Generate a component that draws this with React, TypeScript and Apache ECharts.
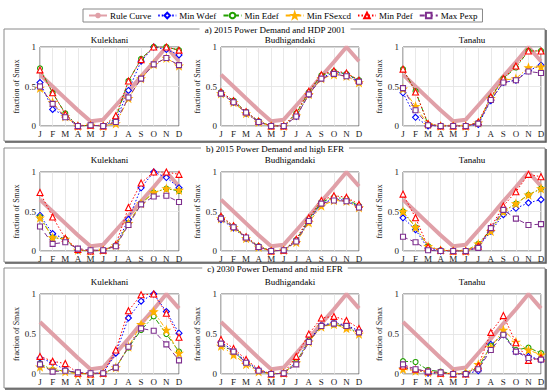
import React, { useEffect, useRef } from "react";
import * as echarts from "echarts";

const months = ["J", "F", "M", "A", "M", "J", "J", "A", "S", "O", "N", "D"];
const seriesNames = ["Min Wdef", "Min Edef", "Min FSexcd", "Min Pdef", "Max Pexp"];
const reservoirs = ["Kulekhani", "Budhigandaki", "Tanahu"];
const scenarioTitles = [
  "a) 2015 Power Demand and HDP 2001",
  "b) 2015 Power Demand and high EFR",
  "c) 2030 Power Demand and mid EFR",
];

const ruleCurve = [0.65, 0.5, 0.35, 0.2, 0.06, 0.08, 0.26, 0.44, 0.63, 0.81, 1.0, 0.82];

// order: Wdef, Edef, FSexcd, Pdef, Pexp
const aKulekhani = [
  [0.55, 0.21, 0.13, 0, 0.01, 0, 0.07, 0.45, 0.82, 1.0, 0.97, 0.9],
  [0.73, 0.42, 0.16, 0, 0.01, 0, 0.1, 0.57, 0.85, 1.0, 1.0, 0.96],
  [0.48, 0.3, 0.12, 0, 0.01, 0, 0.03, 0.35, 0.6, 0.78, 0.86, 0.76],
  [0.71, 0.42, 0.15, 0, 0.01, 0, 0.13, 0.57, 0.84, 1.0, 1.0, 0.96],
  [0.5, 0.28, 0.11, 0, 0.01, 0, 0.05, 0.36, 0.6, 0.78, 0.86, 0.77],
];
const aBudhigandaki = [
  [0.42, 0.3, 0.16, 0.05, 0, 0, 0.12, 0.4, 0.61, 0.68, 0.66, 0.56],
  [0.43, 0.32, 0.18, 0.06, 0, 0, 0.16, 0.43, 0.64, 0.69, 0.66, 0.58],
  [0.41, 0.3, 0.16, 0.05, 0, 0, 0.13, 0.4, 0.6, 0.65, 0.63, 0.55],
  [0.43, 0.32, 0.18, 0.06, 0, 0, 0.17, 0.44, 0.65, 0.7, 0.67, 0.58],
  [0.41, 0.3, 0.17, 0.05, 0, 0, 0.12, 0.4, 0.6, 0.66, 0.63, 0.56],
];
const aTanahu = [
  [0.42, 0.11, 0.0, 0, 0, 0, 0.02, 0.32, 0.55, 0.58, 0.7, 0.77],
  [0.72, 0.44, 0.02, 0, 0, 0, 0.04, 0.36, 0.6, 0.74, 0.95, 0.95],
  [0.47, 0.25, 0.02, 0, 0, 0, 0.04, 0.35, 0.58, 0.6, 0.74, 0.75],
  [0.72, 0.43, 0.03, 0, 0, 0, 0.05, 0.37, 0.6, 0.76, 0.95, 0.95],
  [0.48, 0.2, 0.01, 0, 0, 0, 0.03, 0.33, 0.55, 0.58, 0.69, 0.67],
];
const bKulekhani = [
  [0.45, 0.22, 0.15, 0.01, 0, 0.01, 0.07, 0.4, 0.8, 1.0, 0.93, 0.8],
  [0.43, 0.17, 0.15, 0.01, 0, 0.01, 0.07, 0.35, 0.6, 0.74, 0.79, 0.76],
  [0.42, 0.17, 0.15, 0.01, 0, 0.01, 0.07, 0.35, 0.6, 0.74, 0.79, 0.77],
  [0.74, 0.43, 0.16, 0.02, 0, 0.01, 0.08, 0.55, 0.86, 1.0, 1.0, 0.97],
  [0.31, 0.09, 0.11, 0.03, 0.01, 0.01, 0.06, 0.33, 0.59, 0.69, 0.7, 0.62],
];
const bBudhigandaki = [
  [0.4, 0.29, 0.16, 0.05, 0, 0.01, 0.12, 0.38, 0.6, 0.66, 0.64, 0.56],
  [0.43, 0.31, 0.17, 0.06, 0, 0.01, 0.14, 0.4, 0.62, 0.68, 0.66, 0.57],
  [0.41, 0.3, 0.16, 0.05, 0, 0.01, 0.11, 0.36, 0.57, 0.64, 0.63, 0.55],
  [0.44, 0.32, 0.18, 0.06, 0, 0.01, 0.15, 0.42, 0.64, 0.7, 0.68, 0.59],
  [0.41, 0.3, 0.17, 0.05, 0, 0.01, 0.12, 0.38, 0.6, 0.64, 0.63, 0.55],
];
const bTanahu = [
  [0.42, 0.27, 0.03, 0, 0, 0, 0.05, 0.25, 0.46, 0.54, 0.61, 0.65],
  [0.5, 0.3, 0.06, 0.01, 0, 0, 0.09, 0.27, 0.5, 0.6, 0.71, 0.79],
  [0.5, 0.3, 0.06, 0.01, 0, 0, 0.09, 0.25, 0.5, 0.6, 0.71, 0.79],
  [0.72, 0.42, 0.05, 0.01, 0, 0, 0.06, 0.3, 0.57, 0.75, 0.97, 0.94],
  [0.18, 0.11, 0.01, 0, 0, 0, 0.04, 0.29, 0.52, 0.41, 0.33, 0.34],
];
const cKulekhani = [
  [0.2, 0.14, 0.05, 0.01, 0.01, 0.01, 0.26, 0.7, 0.91, 1.0, 0.78, 0.51],
  [0.13, 0.05, 0.04, 0.01, 0, 0.01, 0.08, 0.33, 0.55, 0.72, 0.5, 0.28],
  [0.09, 0.06, 0.03, 0, 0, 0.01, 0.08, 0.34, 0.62, 0.78, 0.55, 0.26],
  [0.22, 0.16, 0.13, 0.01, 0, 0.01, 0.3, 0.79, 0.99, 1.0, 0.76, 0.46],
  [0.12, 0.03, 0.04, 0.02, 0.01, 0.01, 0.08, 0.34, 0.57, 0.54, 0.37, 0.17],
];
const cBudhigandaki = [
  [0.4, 0.29, 0.16, 0.05, 0, 0.01, 0.15, 0.42, 0.61, 0.64, 0.61, 0.54],
  [0.37, 0.27, 0.15, 0.04, 0, 0.01, 0.15, 0.41, 0.6, 0.62, 0.59, 0.51],
  [0.35, 0.24, 0.12, 0.03, 0, 0.01, 0.14, 0.4, 0.59, 0.62, 0.57, 0.5],
  [0.43, 0.32, 0.18, 0.06, 0, 0.01, 0.22, 0.5, 0.7, 0.72, 0.67, 0.57],
  [0.38, 0.28, 0.14, 0.04, 0, 0.01, 0.12, 0.4, 0.6, 0.63, 0.6, 0.52],
];
const cTanahu = [
  [0.08, 0.05, 0.01, 0.01, 0, 0, 0.04, 0.37, 0.49, 0.28, 0.22, 0.18],
  [0.16, 0.15, 0.05, 0.03, 0, 0.01, 0.08, 0.35, 0.5, 0.3, 0.33, 0.26],
  [0.06, 0.04, 0.02, 0.01, 0, 0.01, 0.12, 0.33, 0.55, 0.4, 0.3, 0.24],
  [0.1, 0.06, 0.03, 0.01, 0, 0, 0.1, 0.52, 0.73, 0.39, 0.17, 0.2],
  [0.12, 0.06, 0.03, 0.02, 0, 0, 0.06, 0.3, 0.49, 0.28, 0.2, 0.18],
];

const panels = [
  [aKulekhani, aBudhigandaki, aTanahu],
  [bKulekhani, bBudhigandaki, bTanahu],
  [cKulekhani, cBudhigandaki, cTanahu],
];

const STAR =
  "path://M0,-10 L2.35,-3.24 L9.51,-3.09 L3.8,1.24 L5.88,8.09 L0,4 L-5.88,8.09 L-3.8,1.24 L-9.51,-3.09 L-2.35,-3.24 Z";

const styles = [
  { color: "#0000ff", symbol: "diamond", dash: [1.5, 2], fill: "#ffffff", size: 6 },
  { color: "#22a000", symbol: "circle", dash: [5, 2, 1.5, 2], fill: "#ffffff", size: 5 },
  { color: "#ffb000", symbol: STAR, dash: [5, 2, 1.5, 2], fill: "#ffb000", size: 7 },
  { color: "#ff0000", symbol: "triangle", dash: [1.5, 2], fill: "#ffffff", size: 6 },
  { color: "#7e2f8e", symbol: "rect", dash: [5, 3], fill: "#ffffff", size: 5 },
];

const FONT = "Liberation Serif";
const colLeft = [40, 221, 403];
const colWidth = [139, 138, 138];
const rowTop = [47, 172, 294];
const rowHeight = [79, 79, 80];
const boxes = [
  { top: 29, bottom: 141 },
  { top: 148, bottom: 262 },
  { top: 268, bottom: 388 },
];
const titleY = [40, 160, 282];

export default function App() {
  const ref = useRef<HTMLDivElement>(null);
  useEffect(() => {
    if (!ref.current) return;
    const chart = echarts.init(ref.current, undefined, { renderer: "svg" });
    const grid: any[] = [];
    const xAxis: any[] = [];
    const yAxis: any[] = [];
    const series: any[] = [];
    const graphic: any[] = [];

    boxes.forEach((b, r) => {
      graphic.push({
        type: "rect",
        shape: { x: 4, y: b.top, width: 541, height: b.bottom - b.top },
        style: { fill: "none", stroke: "#8a8a8a", lineWidth: 1 },
        silent: true,
      });
      graphic.push({
        type: "polyline",
        shape: { points: [[546, b.top + 1], [546, b.bottom + 1], [5, b.bottom + 1]] },
        style: { fill: "none", stroke: "#555", lineWidth: 1.5 },
        silent: true,
      });
      graphic.push({
        type: "text",
        x: 275,
        y: b.top + 0.5,
        z: 10,
        style: {
          text: scenarioTitles[r],
          align: "center",
          verticalAlign: "middle",
          textAlign: "center",
          textVerticalAlign: "middle",
          font: `9px "${FONT}"`,
          lineHeight: 9,
          fill: "#000",
          backgroundColor: "#fff",
          padding: [0, 5],
        },
      });
    });

    let gi = 0;
    for (let r = 0; r < 3; r++) {
      for (let c = 0; c < 3; c++) {
        grid.push({
          left: colLeft[c],
          top: rowTop[r],
          width: colWidth[c],
          height: rowHeight[r],
          show: true,
          borderColor: "#666",
          borderWidth: 1,
          backgroundColor: "#fff",
        });
        xAxis.push({
          type: "category",
          gridIndex: gi,
          data: months,
          boundaryGap: false,
          axisLine: { show: false },
          axisTick: { show: false },
          axisLabel: { fontFamily: FONT, fontSize: 9, lineHeight: 9, color: "#222", margin: 3, interval: 0 },
          splitLine: { show: true, lineStyle: { color: "#e2e2e2", width: 0.8 } },
        });
        yAxis.push({
          type: "value",
          gridIndex: gi,
          min: 0,
          max: 1,
          interval: 0.5,
          name: "fraction of Smax",
          nameLocation: "middle",
          nameGap: 17,
          nameTextStyle: { fontFamily: FONT, fontSize: 8, color: "#222" },
          axisLine: { show: false },
          axisTick: { show: false },
          axisLabel: { fontFamily: FONT, fontSize: 9, color: "#222", margin: 4 },
          splitLine: { show: true, lineStyle: { color: "#e2e2e2", width: 0.8 } },
        });
        graphic.push({
          type: "text",
          x: colLeft[c] + colWidth[c] / 2,
          y: titleY[r],
          style: {
            text: reservoirs[c],
            align: "center",
            verticalAlign: "middle",
            textAlign: "center",
            textVerticalAlign: "middle",
            font: `9px "${FONT}"`,
            fill: "#000",
          },
        });
        series.push({
          name: "Rule Curve",
          type: "line",
          xAxisIndex: gi,
          yAxisIndex: gi,
          data: ruleCurve,
          showSymbol: false,
          symbol: "none",
          lineStyle: { color: "#e0a0a8", width: 4 },
          itemStyle: { color: "#e0a0a8" },
          z: 1,
        });
        const pd = panels[r][c];
        seriesNames.forEach((nm, k) => {
          const s = styles[k];
          series.push({
            name: nm,
            type: "line",
            xAxisIndex: gi,
            yAxisIndex: gi,
            data: pd[k],
            symbol: s.symbol,
            symbolSize: s.size,
            showSymbol: true,
            lineStyle: { color: s.color, width: 1, type: s.dash },
            itemStyle: { color: s.fill, borderColor: s.color, borderWidth: 1.1 },
            z: 2 + k,
          });
        });
        gi++;
      }
    }

    chart.setOption({
      animation: false,
      backgroundColor: "#fff",
      legend: {
        top: 9,
        left: 83,
        data: ["Rule Curve", ...seriesNames],
        itemWidth: 18,
        itemHeight: 7,
        itemGap: 6,
        padding: [2, 5],
        borderColor: "#888",
        borderWidth: 1,
        textStyle: { fontFamily: FONT, fontSize: 9, color: "#000", padding: [0, 0, 0, -2] },
      },
      grid,
      xAxis,
      yAxis,
      series,
      graphic,
    });
    return () => chart.dispose();
  }, []);
  return (
    <div
      ref={ref}
      style={{ position: "absolute", left: 0, top: 0, width: 550, height: 392 }}
    />
  );
}
